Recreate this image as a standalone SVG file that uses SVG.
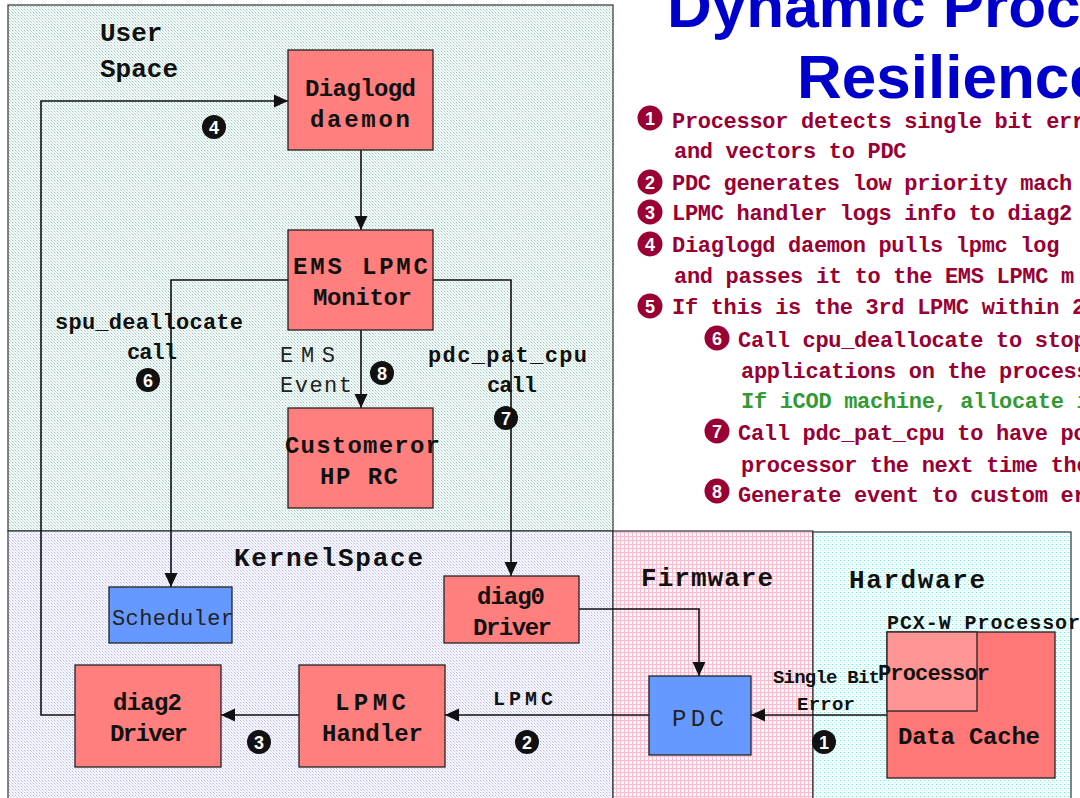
<svg xmlns="http://www.w3.org/2000/svg" width="1080" height="798" viewBox="0 0 1080 798">
<style>
.mono{font-family:"Liberation Mono","DejaVu Sans Mono",monospace;}
.lbl{font-family:"Liberation Mono","DejaVu Sans Mono",monospace;font-weight:bold;fill:#111;}
.reg{font-size:26px;}
.nd{font-size:24px;}
.sm{font-size:22px;}
.plain{font-family:"Liberation Mono","DejaVu Sans Mono",monospace;fill:#222;font-size:22px;}
.node{fill:#ff7f7f;stroke:#222;stroke-width:1.3;}
.blue{fill:#6699ff;stroke:#222;stroke-width:1.3;}
.panel{stroke:#333;stroke-width:1.2;}
.con{fill:none;stroke:#111;stroke-width:1.6;}
.list{font-family:"Liberation Mono","DejaVu Sans Mono",monospace;font-weight:bold;font-size:22px;fill:#990033;letter-spacing:-0.3px;}
.green{fill:#339933;}
.bul circle{fill:#990033;}
.bul text,.blk text{font-family:"Liberation Sans",Arial,sans-serif;font-weight:bold;font-size:18px;fill:#fff;text-anchor:middle;}
.blk circle{fill:#111;}
.title{font-family:"Liberation Sans",Arial,sans-serif;font-weight:bold;font-size:62px;fill:#0000cc;}
</style>
<defs>
<pattern id="pUser" width="3" height="3" patternUnits="userSpaceOnUse">
<rect width="3" height="3" fill="#f7fbfa"/>
<rect x="0" y="0" width="1" height="1" fill="#98c4bc"/>
<rect x="1" y="1" width="1" height="1" fill="#c4e0da"/>
<rect x="2" y="2" width="1" height="1" fill="#d0e6e2"/>
</pattern>
<pattern id="pKern" width="3" height="3" patternUnits="userSpaceOnUse">
<rect width="3" height="3" fill="#f8f8ff"/>
<rect x="0" y="0" width="1" height="1" fill="#b4b4ee"/>
<rect x="1" y="1" width="1" height="1" fill="#d4d4f6"/>
<rect x="2" y="2" width="1" height="1" fill="#e0e0f8"/>
</pattern>
<pattern id="pFirm" width="4" height="4" patternUnits="userSpaceOnUse">
<rect width="4" height="4" fill="#fff8fa"/>
<rect x="0" y="0" width="1" height="4" fill="#f8bccc"/>
<rect x="0" y="0" width="4" height="1" fill="#f8bccc"/>
</pattern>
<pattern id="pHw" width="4" height="4" patternUnits="userSpaceOnUse">
<rect width="4" height="4" fill="#f8fefe"/>
<rect x="0" y="0" width="1" height="1" fill="#70eadf"/>
<rect x="2" y="2" width="1" height="1" fill="#b4f2ec"/>
</pattern>
<marker id="arr" markerUnits="userSpaceOnUse" markerWidth="14" markerHeight="14" refX="14" refY="7" orient="auto">
<path d="M0,0.5 L14,7 L0,13.5 z" fill="#111"/>
</marker>
</defs>
<rect width="1080" height="798" fill="#ffffff"/>

<g id="panels">
<rect class="panel" x="8" y="5" width="605" height="526" fill="url(#pUser)"/>
<rect class="panel" x="8" y="531" width="605" height="270" fill="url(#pKern)"/>
<rect class="panel" x="613" y="531" width="200" height="270" fill="url(#pFirm)"/>
<rect class="panel" x="813" y="532" width="258" height="270" fill="url(#pHw)"/>
<text class="lbl reg" x="100" y="41">User</text>
<text class="lbl reg" x="100" y="77">Space</text>
<text class="lbl reg" x="234" y="566" textLength="189">KernelSpace</text>
<text class="lbl reg" x="641" y="586" textLength="132">Firmware</text>
<text class="lbl reg" x="849" y="588" textLength="136">Hardware</text>
</g>

<g id="title">
<text class="title" x="667" y="27">Dynamic Proce</text>
<text class="title" x="797" y="98">Resilience</text>
</g>

<g id="steps">
<g class="bul"><circle cx="650" cy="118" r="12.5"/><text x="650" y="124.5">1</text></g>
<text class="list" x="672" y="128">Processor detects single bit error</text>
<text class="list" x="674" y="158">and vectors to PDC</text>
<g class="bul"><circle cx="650" cy="182" r="12.5"/><text x="650" y="188.5">2</text></g>
<text class="list" x="672" y="190">PDC generates low priority mach</text>
<g class="bul"><circle cx="650" cy="212" r="12.5"/><text x="650" y="218.5">3</text></g>
<text class="list" x="672" y="220">LPMC handler logs info to diag2 d</text>
<g class="bul"><circle cx="650" cy="244" r="12.5"/><text x="650" y="250.5">4</text></g>
<text class="list" x="672" y="252">Diaglogd daemon pulls lpmc log</text>
<text class="list" x="674" y="283">and passes it to the EMS LPMC m</text>
<g class="bul"><circle cx="650" cy="306" r="12.5"/><text x="650" y="312.5">5</text></g>
<text class="list" x="672" y="314">If this is the 3rd LPMC within 24 h</text>
<g class="bul"><circle cx="717" cy="338" r="12.5"/><text x="717" y="344.5">6</text></g>
<text class="list" x="738" y="347">Call cpu_deallocate to stop</text>
<text class="list" x="741" y="378">applications on the process</text>
<text class="list green" x="741" y="408">If iCOD machine, allocate id</text>
<g class="bul"><circle cx="717" cy="431" r="12.5"/><text x="717" y="437.5">7</text></g>
<text class="list" x="738" y="440">Call pdc_pat_cpu to have po</text>
<text class="list" x="741" y="472">processor the next time the</text>
<g class="bul"><circle cx="717" cy="491" r="12.5"/><text x="717" y="497.5">8</text></g>
<text class="list" x="738" y="502">Generate event to custom er</text>
</g>

<g id="connectors">
<polyline class="con" points="75,715 41,715 41,101 288,101" marker-end="url(#arr)"/>
<line class="con" x1="361" y1="150" x2="361" y2="230" marker-end="url(#arr)"/>
<polyline class="con" points="288,280 171,280 171,587" marker-end="url(#arr)"/>
<polyline class="con" points="433,280 511,280 511,576" marker-end="url(#arr)"/>
<line class="con" x1="361" y1="330" x2="361" y2="408" marker-end="url(#arr)"/>
<polyline class="con" points="579,609 699,609 699,676" marker-end="url(#arr)"/>
<line class="con" x1="887" y1="715" x2="751" y2="715" marker-end="url(#arr)"/>
<line class="con" x1="649" y1="715" x2="445" y2="715" marker-end="url(#arr)"/>
<line class="con" x1="299" y1="715" x2="221" y2="715" marker-end="url(#arr)"/>
<text class="lbl sm" x="55" y="329" textLength="188">spu_deallocate</text>
<text class="lbl sm" x="127" y="359" textLength="50">call</text>
<text class="lbl sm" x="428" y="362" textLength="159">pdc_pat_cpu</text>
<text class="lbl sm" x="487" y="392" textLength="50">call</text>
<text class="plain" x="280" y="362" textLength="55">EMS</text>
<text class="plain" x="280" y="392" textLength="72">Event</text>
<text class="lbl" style="font-size:20px" x="493" y="705" textLength="60">LPMC</text>
<text class="lbl" style="font-size:19px" x="773" y="683" textLength="107">Single Bit</text>
<text class="lbl" style="font-size:19px" x="797" y="710" textLength="58">Error</text>
<g class="blk"><circle cx="214" cy="127" r="12"/><text x="214" y="133.5">4</text></g>
<g class="blk"><circle cx="304" cy="317" r="12"/><text x="304" y="323.5">5</text></g>
<g class="blk"><circle cx="148" cy="380" r="12"/><text x="148" y="386.5">6</text></g>
<g class="blk"><circle cx="506" cy="418" r="12"/><text x="506" y="424.5">7</text></g>
<g class="blk"><circle cx="382" cy="373" r="12"/><text x="382" y="379.5">8</text></g>
<g class="blk"><circle cx="259" cy="742" r="12"/><text x="259" y="748.5">3</text></g>
<g class="blk"><circle cx="527" cy="742" r="12"/><text x="527" y="748.5">2</text></g>
<g class="blk"><circle cx="824" cy="742" r="12"/><text x="824" y="748.5">1</text></g>
</g>

<g id="diaglogd">
<rect class="node" x="288" y="50" width="145" height="100"/>
<text class="lbl nd" x="305" y="96" textLength="111">Diaglogd</text>
<text class="lbl nd" x="310" y="127" textLength="100">daemon</text>
</g>
<g id="emsmonitor">
<rect class="node" x="288" y="230" width="145" height="100"/>
<text class="lbl nd" x="293" y="274" textLength="135">EMS LPMC</text>
<text class="lbl nd" x="313" y="305" textLength="99">Monitor</text>
</g>
<g id="customer">
<rect class="node" x="288" y="408" width="145" height="100"/>
<text class="lbl nd" x="285" y="453" textLength="155">Customeror</text>
<text class="lbl nd" x="320" y="484" textLength="78">HP RC</text>
</g>
<g id="scheduler">
<rect class="blue" x="109" y="587" width="123" height="56"/>
<text class="plain" x="112" y="625" textLength="122">Scheduler</text>
</g>
<g id="diag0">
<rect class="node" x="444" y="576" width="135" height="67"/>
<text class="lbl nd" x="477" y="604" textLength="68">diag0</text>
<text class="lbl nd" x="473" y="635" textLength="79">Driver</text>
</g>
<g id="diag2">
<rect class="node" x="75" y="665" width="146" height="102"/>
<text class="lbl nd" x="113" y="710" textLength="69">diag2</text>
<text class="lbl nd" x="110" y="741" textLength="78">Driver</text>
</g>
<g id="lpmchandler">
<rect class="node" x="299" y="665" width="146" height="102"/>
<text class="lbl nd" x="335" y="710" textLength="71">LPMC</text>
<text class="lbl nd" x="322" y="741" textLength="101">Handler</text>
</g>
<g id="pdc">
<rect class="blue" x="649" y="676" width="102" height="79"/>
<text class="plain" style="font-size:24px" x="672" y="726" textLength="52">PDC</text>
</g>
<g id="pcxw">
<text class="lbl" style="font-size:20px" x="887" y="629" textLength="193">PCX-W Processor</text>
<rect x="887" y="632" width="168" height="146" fill="#ff7777" stroke="#222" stroke-width="1.3"/>
<text class="lbl nd" x="898" y="744" textLength="142">Data Cache</text>
</g>
<g id="processor">
<rect x="887" y="632" width="90" height="79" fill="#ff9494" stroke="#222" stroke-width="1.3"/>
<text class="lbl" style="font-size:22px" x="878" y="680" textLength="112">Processor</text>
</g>
</svg>
